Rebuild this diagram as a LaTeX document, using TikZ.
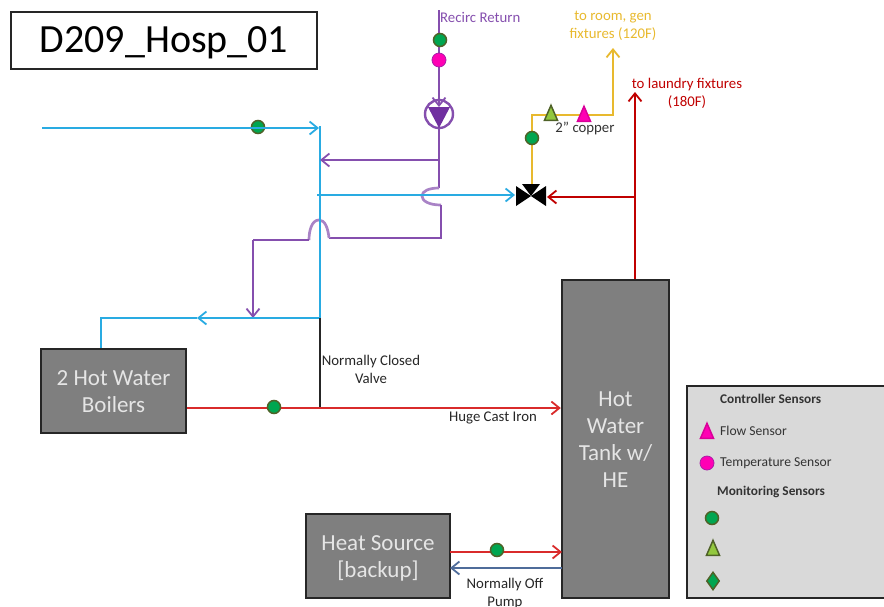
\documentclass[tikz,border=0pt]{standalone}
\usepackage{fontspec}
\setmainfont{Carlito}
\usetikzlibrary{arrows.meta,shapes.geometric}
\definecolor{cblue}{HTML}{29ABE2}
\definecolor{cpurple}{HTML}{7030A0}
\definecolor{cred}{HTML}{D92B2B}
\definecolor{dred}{HTML}{C00000}
\definecolor{cyel}{HTML}{E8B92E}
\definecolor{cgray}{HTML}{7F7F7F}
\definecolor{lgray}{HTML}{D9D9D9}
\definecolor{cgreen}{HTML}{00A650}
\definecolor{oliv}{HTML}{4F6228}
\definecolor{cmag}{HTML}{FF00B4}
\definecolor{lgreen}{HTML}{92C83E}
\definecolor{cslate}{HTML}{4F6C9A}
\newcommand\lowr[2]{\raisebox{-#1}[\height][\depth]{#2}}
\tikzset{
  x=1pt,y=-1pt,
  arr/.style={-{Straight Barb[length=8pt,width=13pt,line width=1.8pt]}},
  pipe/.style={line width=2.2pt},
  bluep/.style={pipe,draw=cblue,line width=2.7pt},
  purp/.style={pipe,draw=cpurple!85!white,line width=2.7pt},
  redp/.style={pipe,draw=cred},
  drp/.style={pipe,draw=dred,line width=2.4pt},
  yelp/.style={pipe,draw=cyel,line width=2.7pt},
  box/.style={draw=black!85,line width=2.4pt,fill=cgray,text=white!90!black,align=center,font=\fontsize{23}{27}\selectfont,inner sep=0pt},
  gcirc/.style={circle,draw=oliv,fill=cgreen,line width=1.5pt,minimum width=13pt,inner sep=0pt},
  mcirc/.style={circle,draw=cpurple!60!cmag,fill=cmag,line width=.8pt,minimum width=14pt,inner sep=0pt},
  tri/.style={isosceles triangle,isosceles triangle apex angle=42,isosceles triangle stretches,shape border rotate=90,inner sep=0pt,minimum height=15pt,minimum width=13pt,line width=1.5pt},
  gtri/.style={tri,draw=oliv,fill=lgreen},
  mtri/.style={tri,draw=cmag!85!black,fill=cmag},
  gdia/.style={diamond,draw=oliv,fill=cgreen,line width=1.5pt,minimum width=13pt,minimum height=18pt,inner sep=0pt},
  lab/.style={font=\fontsize{14.8}{18}\selectfont,align=center,inner sep=0pt},
  leg/.style={font=\fontsize{13.6}{14}\selectfont,anchor=west,inner sep=0pt,text=black!80},
  legb/.style={leg,font=\fontsize{13.3}{14}\selectfont\bfseries},
}
\begin{document}
\begin{tikzpicture}
\useasboundingbox (0,0) rectangle (884,606);
\clip (0,0) rectangle (884,606);
% boxes
\node[draw=black!85,line width=2.4pt,minimum width=306pt,minimum height=57pt,inner sep=0pt,font=\fontsize{40}{44}\selectfont] (title) at (164,40.5) {\lowr{2.5pt}{D209\_Hosp\_01}};
\node[box,minimum width=145pt,minimum height=84pt] (boiler) at (113.5,391) {\lowr{1pt}{2 Hot Water}\\\lowr{1pt}{Boilers}};
\node[box,minimum width=107pt,minimum height=318pt] (tank) at (615.5,439) {\lowr{1pt}{Hot}\\\lowr{1pt}{Water}\\\lowr{1pt}{Tank w/}\\\lowr{1pt}{HE}};
\node[box,minimum width=144pt,minimum height=84pt] (heat) at (378,556) {\lowr{2.5pt}{Heat Source}\\\lowr{2.5pt}{[backup]}};
\node[draw=black!85,fill=lgray,line width=2.4pt,minimum width=220pt,minimum height=212pt,inner sep=0pt] (legend) at (797,492) {};
% coordinates
\coordinate (bs) at (42,128);
\coordinate (bt) at (319,128);
\coordinate (vt) at (320,126);
\coordinate (vb) at (320,318);
\coordinate (bm) at (317,195);
\coordinate (bj) at (197,318);
\coordinate (bc) at (101,318);
\coordinate (ret) at (439,10);
\coordinate (pj) at (439,160);
\coordinate (pl) at (320,160);
\coordinate (pa) at (439,188);
\coordinate (pb) at (441,205);
\coordinate (pc) at (441,238);
\coordinate (pd) at (329,238);
\coordinate (pe) at (309,240);
\coordinate (pf) at (253,240);
\coordinate (pg) at (253,318);
\coordinate (hj) at (320,408);
\coordinate (lt) at (635,92);
\coordinate (lj) at (635,197);
\coordinate (yc) at (532,115);
\coordinate (yd) at (613,115);
\coordinate (ye) at (613,48);
\coordinate (vl) at (515,195);
\coordinate (vr) at (547,197);
\coordinate (vu) at (532,186);
\coordinate (pt) at (439,107);
% purple (under the blue)
\node[circle,draw=cpurple!85!white,line width=2.4pt,minimum width=28pt,inner sep=0pt] (pump) at (439,114) {};
\fill[cpurple] (428,107) -- (450,107) -- (439,128) -- cycle;
\draw[purp,arr] (ret) -- (pt);
\draw[purp] (pump.south) -- (pa);
\draw[purp,draw=cpurple!60!white] (pa) .. controls (429,188) and (422,191) .. (422,196) .. controls (422,201) and (429,205) .. (pb);
\draw[purp] (pb) -- (pc) -- (pd);
\draw[purp,draw=cpurple!60!white] (pd) .. controls (328,228) and (325,220) .. (319,220) .. controls (312,220) and (309,230) .. (pe);
\draw[purp] (pe) -- (pf);
\draw[purp,arr] (pf) -- (pg);
% blue
\draw[bluep] (vt) -- (vb);
\draw[bluep,arr] (bm) -- (vl);
\draw[bluep] (bj) -- (bc) -- (boiler.north -| bc);
\draw[bluep,arr] (vb) -- (bj);
\draw[purp,arr] (pj) -- (pl);
% black
\draw[line width=1.8pt,black!85] (vb) -- (hj);
% red
\draw[redp,arr] (boiler.east |- hj) -- (tank.west |- hj);
\draw[drp,arr] (tank.north -| lt) -- (lt);
\draw[drp,arr] (lj) -- (vr);
% yellow
\draw[yelp,arr] (vu) -- (yc) -- (yd) -- (ye);
% valve
\fill[black] (516,186) -- (531,196) -- (516,206) -- cycle;
\fill[black] (546,186) -- (531,196) -- (546,206) -- cycle;
\fill[black] (522,184) -- (540,184) -- (531,196) -- cycle;
% sensors
\node[gcirc] (s1) at (258,127) {};
\draw[bluep,arr] (bs) -- (bt);
\node[gcirc] (s2) at (440,40) {};
\node[mcirc] (s3) at (439,60) {};
\node[gcirc] (s4) at (532,138) {};
\node[gtri] (s5) at (551,116) {};
\node[mtri] (s6) at (584,117) {};
\node[gcirc] (s7) at (274,407) {};
% heat lines
\coordinate (h1) at (450,552);
\coordinate (h2) at (562,552);
\coordinate (h3) at (562,568);
\coordinate (h4) at (450,568);
\draw[redp,arr] (h1) -- (h2);
\draw[pipe,draw=cslate,arr] (h3) -- (h4);
\node[gcirc] (s8) at (497,550) {};
% labels
\node[lab,anchor=west,text=cpurple!85!white] (t1) at (440,17) {Recirc Return};
\node[lab,text=cyel] (t2) at (613,26) {to room, gen\\fixtures (120F)};
\node[lab,text=dred] (t3) at (687,93) {to laundry fixtures\\(180F)};
\node[lab,text=black!80] (t4) at (585,128) {2” copper};
\node[lab,text=black!85] (t5) at (371,369.5) {Normally Closed\\Valve};
\node[lab,text=black!85] (t6) at (493,418) {Huge Cast Iron};
\node[lab,text=black!85] (t7) at (505,594) {Normally Off\\Pump};
% legend
\node[legb] (l1) at (720,399) {Controller Sensors};
\node[mtri] (m1) at (707,434) {};
\node[leg] (l2) at (720,431) {Flow Sensor};
\node[mcirc] (m2) at (707,463) {};
\node[leg] (l3) at (720,463) {Temperature Sensor};
\node[legb] (l4) at (717,492) {Monitoring Sensors};
\node[gcirc] (m3) at (712,518) {};
\node[gtri] (m4) at (713,551) {};
\node[gdia] (m5) at (713,581) {};
\end{tikzpicture}
\end{document}
